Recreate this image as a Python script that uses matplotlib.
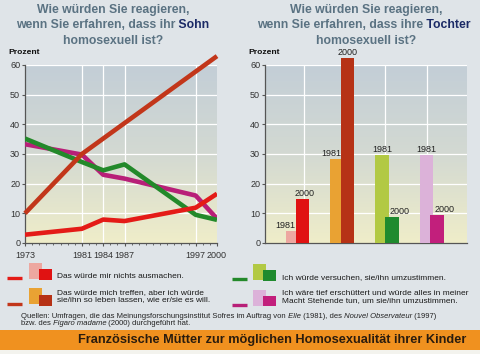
import matplotlib
matplotlib.use("Agg")
import matplotlib.pyplot as plt
import numpy as np
from matplotlib.colors import to_rgb
from matplotlib.patches import Rectangle

plt.rcParams['font.family'] = ['Liberation Sans', 'DejaVu Sans']

# %% data, left chart (Sohn): answers over the survey years
years = [1973, 1981, 1984, 1987, 1997, 2000]
nichts = [2.8, 4.8, 7.9, 7.4, 11.9, 16.6]
versuchen = [35.2, 27.3, 24.5, 26.5, 9.5, 7.8]
erschuettert = [33.3, 29.8, 23.0, 21.7, 16.0, 8.2]
treffen_years = [1973, 1981, 2000]
treffen = [10, 30, 63]

# %% data, right chart (Tochter): 1981 vs 2000
answers = ["nichts", "treffen", "versuchen", "erschuettert"]
bar_1981 = [4.2, 28.2, 29.6, 29.7]
bar_2000 = [14.7, 62.5, 8.7, 9.6]

legend_texts = [
    "Das würde mir nichts ausmachen.",
    "Das würde mich treffen, aber ich würde\nsie/ihn so leben lassen, wie er/sie es will.",
    "Ich würde versuchen, sie/ihn umzustimmen.",
    "Ich wäre tief erschüttert und würde alles in meiner\nMacht Stehende tun, um sie/ihn umzustimmen.",
]

# colours
c_line = {"nichts": "#e41b17", "treffen": "#c2361a", "versuchen": "#23892a", "erschuettert": "#b81f78"}
c_1981 = ["#eda7a0", "#e9a233", "#b2c944", "#dcb2d9"]
c_2000 = ["#e01212", "#b63216", "#1f8a2e", "#c21f7c"]
bg = "#dfe4e8"
title_c = "#5a7282"
navy = "#1b2a66"

W, H = 480, 354
fig = plt.figure(figsize=(4.8, 3.54), dpi=100)
fig.patch.set_facecolor(bg)

# pixel overlay for texts, legend and banner
ov = fig.add_axes([0, 0, 1, 1], zorder=0)
ov.set_xlim(0, W)
ov.set_ylim(H, 0)
ov.axis("off")


def paint_bg(ax):
    top = np.array(to_rgb("#c3ced7"))
    mid = np.array(to_rgb("#d3d9d2"))
    bot = np.array(to_rgb("#efedc9"))
    t = np.linspace(0, 1, 120)[:, None]
    img = np.where(t < 0.5, top + (mid - top) * (t / 0.5), mid + (bot - mid) * ((t - 0.5) / 0.5))
    ax.imshow(img[:, None, :], extent=[0, 1, 0, 1], transform=ax.transAxes,
              aspect="auto", zorder=0, interpolation="bilinear")


def style_axes(ax):
    ax.set_facecolor("none")
    for s in ["top", "right"]:
        ax.spines[s].set_visible(False)
    for s in ["left", "bottom"]:
        ax.spines[s].set_color("#555555")
        ax.spines[s].set_linewidth(0.9)
    ax.set_ylim(0, 60)
    ax.set_yticks(range(0, 61, 10))
    ax.tick_params(axis="y", labelsize=6.5, labelcolor="#333333", color="#555555",
                   length=2.5, width=0.8, pad=1)
    for yv in range(10, 61, 10):
        ax.axhline(yv, color="white", lw=0.9, zorder=1)


# %% left chart
axl = fig.add_axes([25 / W, 1 - 243 / H, (217 - 25) / W, 178 / H], zorder=1)
paint_bg(axl)
style_axes(axl)
axl.set_xlim(1973, 2000)
for xv in [1981, 1984, 1987, 1997]:
    axl.axvline(xv, color="white", lw=0.9, zorder=1)
axl.set_xticks(years)
axl.set_xticks(range(1973, 2001), minor=True)
axl.tick_params(axis="x", which="major", labelsize=6.5, labelcolor="#333333",
                color="#555555", length=2.5, width=0.8, pad=3)
axl.tick_params(axis="x", which="minor", color="#555555", length=1.6, width=0.6)

lw = 3.3
axl.plot(years, erschuettert, color=c_line["erschuettert"], lw=lw, zorder=3, solid_capstyle="butt")
axl.plot(years, versuchen, color=c_line["versuchen"], lw=lw, zorder=4, solid_capstyle="butt")
axl.plot(years, nichts, color=c_line["nichts"], lw=lw, zorder=4, solid_capstyle="butt")
axl.plot(treffen_years, treffen, color=c_line["treffen"], lw=lw, zorder=5,
         solid_capstyle="butt", clip_on=False)

# %% right chart
axr = fig.add_axes([265 / W, 1 - 243 / H, (467 - 265) / W, 178 / H], zorder=1)
paint_bg(axr)
style_axes(axr)
axr.set_xlim(-0.73, 3.79)
for xv in [0.15, 1.06, 1.96, 2.9]:
    axr.axvline(xv, color="white", lw=0.9, zorder=1)
axr.set_xticks([])

x = np.arange(len(answers))
off, bw = 0.115, 0.3
axr.bar(x - off, bar_1981, width=bw, color=c_1981, zorder=3)
axr.bar(x + off, bar_2000, width=bw, color=c_2000, zorder=4, clip_on=False)
lab_dx_1981 = [-0.17, -0.13, 0.0, 0.0]
lab_dx_2000 = [0.04, 0.0, 0.17, 0.18]
for i in range(len(answers)):
    axr.text(x[i] - off + lab_dx_1981[i], bar_1981[i] + 0.3, "1981", ha="center",
             va="bottom", fontsize=6.5, color="#222222", zorder=6)
    axr.text(x[i] + off + lab_dx_2000[i], bar_2000[i] + 0.3, "2000", ha="center",
             va="bottom", fontsize=6.5, color="#222222", zorder=6, clip_on=False)

# %% titles
fs_t = 8.8
for cx, word, start in [(113, "Sohn", 16), (366, "Tochter", 257)]:
    ov.text(cx, 12.5, "Wie würden Sie reagieren,", ha="center", va="baseline",
            fontsize=fs_t, fontweight="bold", color=title_c)
    pre = "wenn Sie erfahren, dass ihr" if word == "Sohn" else "wenn Sie erfahren, dass ihre"
    t1 = ov.text(start, 31.5, pre, ha="left", va="bottom", fontsize=fs_t,
                 fontweight="bold", color=title_c)
    ov.annotate(" " + word, xy=(1, 0), xycoords=t1, ha="left", va="bottom",
                fontsize=fs_t, fontweight="bold", color=navy, annotation_clip=False)
    ov.text(cx, 43.5, "homosexuell ist?", ha="center", va="baseline",
            fontsize=fs_t, fontweight="bold", color=title_c)

ov.text(8, 53.5, "Prozent", ha="left", va="baseline", fontsize=6.1, fontweight="bold", color="#111111")
ov.text(248, 53.5, "Prozent", ha="left", va="baseline", fontsize=6.1, fontweight="bold", color="#111111")

# %% legend
rows = [
    # line x0, line y, back square, front square, text x, text y
    (7, 277.5, (29, 263, 13, 16), (39, 269, 13, 11), 57, 276),
    (7, 303.5, (29, 288, 13, 16), (39, 295, 13, 11), 57, 296),
    (232, 278.5, (253, 264, 13, 16), (263, 270, 13, 11), 282, 278),
    (232, 304.5, (253, 290, 13, 16), (263, 296, 13, 10), 282, 297),
]
for i, key in enumerate(answers):
    lx, ly, sq1, sq2, tx, ty = rows[i]
    ov.plot([lx, lx + 15], [ly, ly], color=c_line[key], lw=2.4, solid_capstyle="butt")
    ov.add_patch(Rectangle((sq1[0], sq1[1]), sq1[2], sq1[3], color=c_1981[i], lw=0))
    ov.add_patch(Rectangle((sq2[0], sq2[1]), sq2[2], sq2[3], color=c_2000[i], lw=0))
    ov.text(tx, ty, legend_texts[i], ha="left", va="center", fontsize=6.0,
            color="#1a1a1a", linespacing=1.05)

# %% sources
fs_q = 5.5
q_col = "#222222"
pieces1 = [("Quellen: Umfragen, die das Meinungsforschungsinstitut Sofres im Auftrag von", "normal"),
           (" Elle", "italic"), (" (1981), des", "normal"),
           (" Nouvel Observateur", "italic"), (" (1997)", "normal")]
pieces2 = [("bzw. des", "normal"), (" Figaro madame", "italic"),
           (" (2000) durchgeführt hat.", "normal")]
for pieces, y0 in [(pieces1, 320), (pieces2, 327)]:
    prev = None
    for s, st in pieces:
        if prev is None:
            prev = ov.text(21, y0, s, ha="left", va="bottom", fontsize=fs_q,
                           style=st, color=q_col)
        else:
            prev = ov.annotate(s, xy=(1, 0), xycoords=prev, ha="left", va="bottom",
                               fontsize=fs_q, style=st, color=q_col, annotation_clip=False)

# %% banner
ov.add_patch(Rectangle((0, 330), W, 20, color="#f0911f", lw=0))
ov.add_patch(Rectangle((0, 350), W, 4, color="#f3f3ee", lw=0))
ov.text(466, 340.5, "Französische Mütter zur möglichen Homosexualität ihrer Kinder",
        ha="right", va="center", fontsize=9.2, fontweight="bold", color="#2a1c0e")

fig.savefig("out.png", dpi=100, facecolor=fig.get_facecolor())
